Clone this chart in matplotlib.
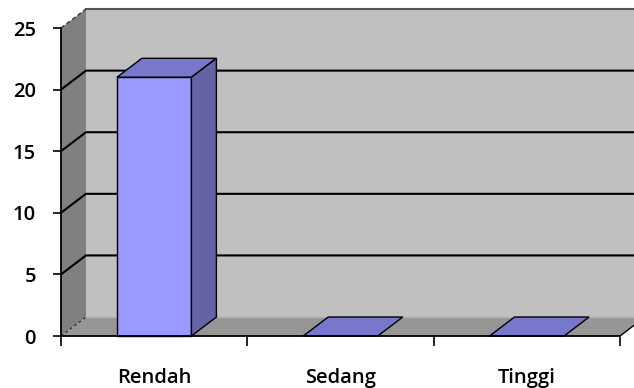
import numpy as np
import matplotlib.pyplot as plt
from matplotlib.patches import Polygon

categories = ['Rendah', 'Sedang', 'Tinggi']
values = [21, 0, 0]
y_ticks = [0, 5, 10, 15, 20, 25]

# fake 3d depth, in data units
DX = 0.134
DY = 1.54
bar_w = 0.4

fig = plt.figure(figsize=(6.34, 3.88), dpi=100)
ax = fig.add_axes([61 / 634, 52 / 388, 559 / 634, 308 / 388])
ax.set_xlim(-0.5, 2.5)
ax.set_ylim(0, 25)
ax.set_facecolor('none')

x0, x1 = -0.5, 2.5
ymax = y_ticks[-1]

# walls and floor
back = Polygon([(x0 + DX, DY), (x1 + DX + 1, DY), (x1 + DX + 1, ymax + DY), (x0 + DX, ymax + DY)],
               closed=True, fc='#c0c0c0', ec='none', clip_on=False, zorder=0)
side = Polygon([(x0, 0), (x0 + DX, DY), (x0 + DX, ymax + DY), (x0, ymax)],
               closed=True, fc='#808080', ec='none', clip_on=False, zorder=0)
floor = Polygon([(x0, 0), (x1, 0), (x1 + DX, DY), (x0 + DX, DY)],
                closed=True, fc='#969696', ec='none', clip_on=False, zorder=0)
for p in (back, side, floor):
    ax.add_patch(p)

# gridlines on side + back wall
for v in y_ticks[1:-1]:
    ax.plot([x0, x0 + DX, x1 + DX + 1], [v, v + DY, v + DY], color='black', lw=1.5,
            clip_on=False, zorder=1)
ax.plot([x0 + DX, x1 + DX + 1], [ymax + DY, ymax + DY], color='#555555', lw=1.5,
        clip_on=False, zorder=1)
ax.plot([x0, x0 + DX], [ymax, ymax + DY], color='#333333', lw=1, ls=(0, (3, 2)),
        clip_on=False, zorder=1)
ax.plot([x0, x0 + DX], [0, DY], color='#333333', lw=1, ls=(0, (2, 2)),
        clip_on=False, zorder=1)
ax.plot([x1, x1 + DX], [0, DY], color='black', lw=1, clip_on=False, zorder=1)
ax.plot([x0 + DX, x1 + DX + 1], [DY, DY], color='#b0b0b0', lw=1, clip_on=False, zorder=1)

# bars
for i, v in enumerate(values):
    l, r = i - bar_w / 2, i + bar_w / 2
    top = Polygon([(l, v), (r, v), (r + DX, v + DY), (l + DX, v + DY)], closed=True,
                  fc='#7777cc', ec='black', lw=1, clip_on=False, zorder=3)
    ax.add_patch(top)
    if v > 0:
        front = Polygon([(l, 0), (r, 0), (r, v), (l, v)], closed=True,
                        fc='#9999ff', ec='black', lw=1, clip_on=False, zorder=3)
        right = Polygon([(r, 0), (r + DX, DY), (r + DX, v + DY), (r, v)], closed=True,
                        fc='#6363a6', ec='black', lw=1, clip_on=False, zorder=3)
        ax.add_patch(front)
        ax.add_patch(right)

# axes
for s in ('top', 'right'):
    ax.spines[s].set_visible(False)
ax.spines['left'].set_linewidth(1.3)
ax.spines['bottom'].set_linewidth(1.3)
ax.spines['left'].set_zorder(4)
ax.spines['bottom'].set_zorder(4)

font = dict(family='Open Sans', weight='semibold', size=14.5)
ax.set_yticks(y_ticks)
ax.set_yticklabels([str(t) for t in y_ticks], fontdict=font)
ax.tick_params(axis='y', length=6, width=1.2, pad=12)

ax.set_xticks(np.arange(len(categories) + 1) - 0.5)
ax.set_xticklabels([])
ax.set_xticks(np.arange(len(categories)), minor=True)
ax.set_xticklabels(categories, minor=True, fontdict=font)
ax.tick_params(axis='x', which='major', length=7, width=1.2, direction='out')
ax.tick_params(axis='x', which='minor', length=0, pad=23)

fig.savefig('out.png', dpi=100)
